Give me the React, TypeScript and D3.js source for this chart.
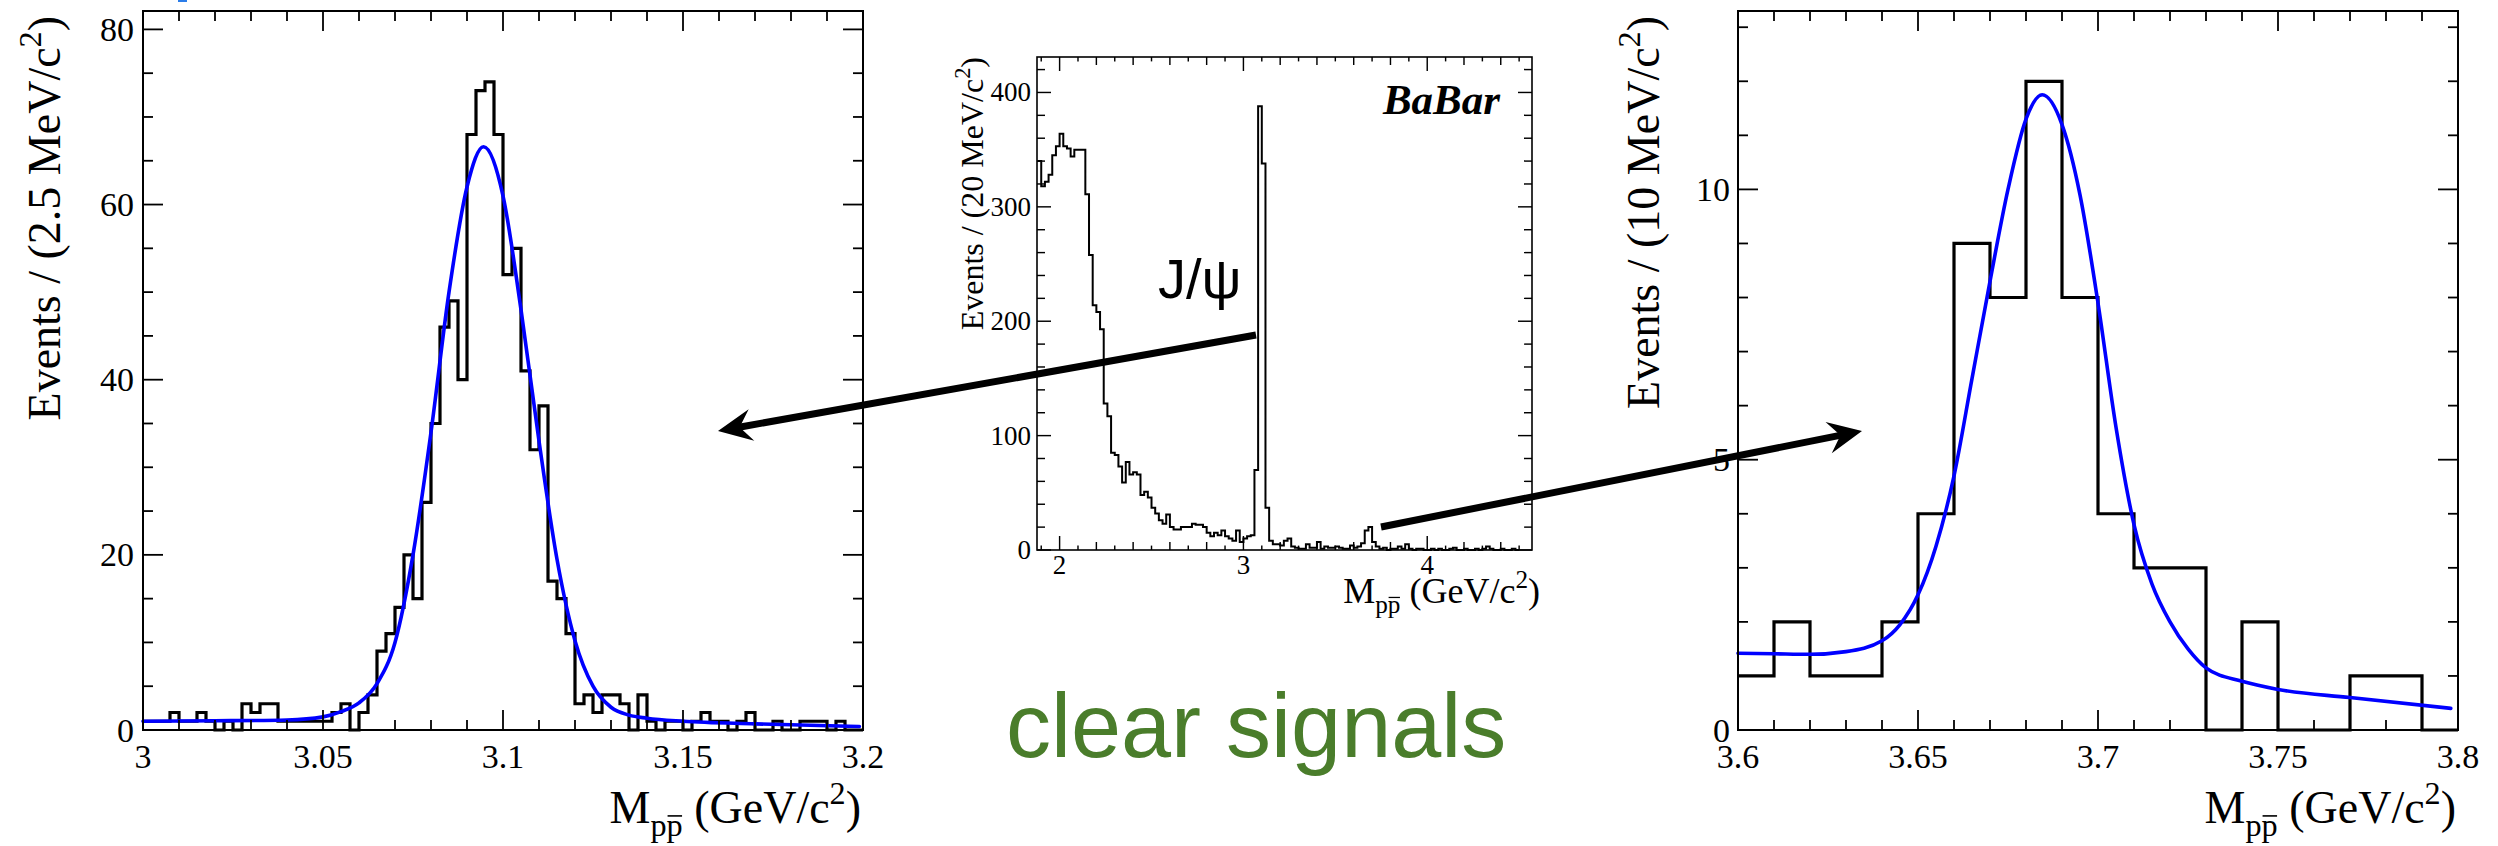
import * as d3 from "d3";
import { useLayoutEffect, useRef, useState } from "react";

// ---- J/psi window (left panel), 2.5 MeV bins from 3.0 ----
const jpsiBinLow = 3.0;
const jpsiBinWidth = 0.0025;
const jpsiCounts = [
  1, 1, 1, 2, 1, 1, 2, 1, 0, 1, 0, 3, 2, 3, 3, 1, 1, 1, 1, 1,
  1, 2, 3, 0, 2, 4,
  9, 11, 14, 20, 15, 26, 35, 46, 49, 40, 68, 73, 74, 68, 52, 55, 41, 32, 37,
  17, 15, 11, 3, 4, 2, 4, 4, 3, 0, 4,
  1, 0, 1, 1, 0, 1, 2, 1, 1, 0, 1, 2, 0, 0, 1, 0, 0, 1, 1, 1, 0, 1, 0, 0,
];
const jpsiFitMass = [3.0, 3.02, 3.04, 3.05, 3.055, 3.06, 3.065, 3.07, 3.075, 3.08, 3.085, 3.09, 3.0946, 3.1, 3.105, 3.11, 3.115, 3.12, 3.125, 3.13, 3.135, 3.14, 3.15, 3.17, 3.199];
const jpsiFitEvents = [1.0, 1.05, 1.15, 1.5, 2.1, 3.1, 5.3, 10, 20, 34, 50, 62, 66.6, 61, 48, 33, 19.5, 10.2, 5.0, 2.6, 1.7, 1.35, 1.0, 0.7, 0.4];
const jpsiXTicks = [3, 3.05, 3.1, 3.15, 3.2];
const jpsiXLabels = ["3", "3.05", "3.1", "3.15", "3.2"];
const jpsiYTicks = [0, 20, 40, 60, 80];

// ---- full spectrum (middle panel), 20 MeV bins from 1.88 ----
const overviewBinLow = 1.88;
const overviewBinWidth = 0.02;
const overviewCounts = [
  340, 318, 322, 328, 345, 353, 364, 353, 351, 344, 350, 350, 350,
  311, 258, 214, 208, 193, 128, 117, 85, 83, 73, 59, 77, 66, 68, 66,
  48, 51, 46, 37, 32, 26, 23, 31, 20, 18, 18, 20, 20, 20, 23, 22,
  22, 20, 15, 12, 15, 13, 17, 12, 10, 8, 17, 7, 10, 12, 13,
  70, 388, 338, 37,
  8, 5, 5, 4, 8, 10, 3, 2, 1, 1, 5, 2, 2, 7, 1, 3, 2, 2, 3, 2, 1, 1, 4, 2, 3,
  6, 17, 20, 7, 3,
  1, 2, 0, 1, 1, 3, 1, 5, 1, 0,
  1, 1, 0, 0, 1, 0, 1, 0, 0, 1, 2, 0, 0, 1, 0, 0, 1, 0, 1, 3, 1, 0, 0, 1, 0, 0, 1, 0,
];
const overviewXTicks = [2, 3, 4];
const overviewYTicks = [0, 100, 200, 300, 400];

// ---- psi(2S) window (right panel), 10 MeV bins from 3.6 ----
const psiBinLow = 3.6;
const psiBinWidth = 0.01;
const psiCounts = [1, 2, 1, 1, 2, 4, 9, 8, 12, 8, 4, 3, 3, 0, 2, 0, 0, 1, 1, 0];
const psiFitMass = [3.6, 3.61, 3.62, 3.63, 3.64, 3.645, 3.65, 3.655, 3.66, 3.665, 3.67, 3.675, 3.68, 3.6845, 3.69, 3.695, 3.7, 3.705, 3.71, 3.715, 3.72, 3.725, 3.73, 3.74, 3.75, 3.77, 3.798];
const psiFitEvents = [1.42, 1.41, 1.4, 1.45, 1.65, 1.95, 2.5, 3.4, 4.7, 6.5, 8.3, 10.0, 11.3, 11.75, 11.2, 9.9, 7.9, 5.6, 3.8, 2.7, 2.0, 1.5, 1.15, 0.9, 0.75, 0.6, 0.4];
const psiXTicks = [3.6, 3.65, 3.7, 3.75, 3.8];
const psiXLabels = ["3.6", "3.65", "3.7", "3.75", "3.8"];
const psiYTicks = [0, 5, 10];

const serif = "'Liberation Serif', 'Times New Roman', serif";
const sans = "'Liberation Sans', Arial, Helvetica, sans-serif";

const panels = [
  {
    key: "jpsi",
    left: 143, right: 863, top: 11, bottom: 730,
    xDomain: [3.0, 3.2], yDomain: [0, 82.1],
    binLow: jpsiBinLow, binWidth: jpsiBinWidth, counts: jpsiCounts,
    fitMass: jpsiFitMass, fitEvents: jpsiFitEvents,
    xTicks: jpsiXTicks, xLabels: jpsiXLabels, yTicks: jpsiYTicks,
    xMinor: 0.01, yMinor: 5, xTiny: 0,
    majorLen: 20, minorLen: 10, frameW: 2, histW: 3.2, fitW: 3.6,
    tickFont: 34, titleFont: 46, xTitleFont: 46,
    yLabelX: 134, xLabelY: 768,
    xTitleEnd: 861, xTitleY: 823, yTitleX: 60, yTitleTop: 16,
    yTitle: "Events / (2.5 MeV/c",
  },
  {
    key: "overview",
    left: 1037, right: 1532, top: 57, bottom: 550,
    xDomain: [1.877, 4.57], yDomain: [0, 431],
    binLow: overviewBinLow, binWidth: overviewBinWidth, counts: overviewCounts,
    fitMass: null, fitEvents: null,
    xTicks: overviewXTicks, xLabels: overviewXTicks.map(String), yTicks: overviewYTicks,
    xMinor: 0.2, yMinor: 20, xTiny: 0.1,
    majorLen: 14, minorLen: 8, frameW: 1.6, histW: 2, fitW: 0,
    tickFont: 27, titleFont: 32, xTitleFont: 36,
    yLabelX: 1031, xLabelY: 574,
    xTitleEnd: 1540, xTitleY: 603, yTitleX: 983, yTitleTop: 57,
    yTitle: "Events / (20 MeV/c",
  },
  {
    key: "psi",
    left: 1738, right: 2458, top: 11, bottom: 730,
    xDomain: [3.6, 3.8], yDomain: [0, 13.3],
    binLow: psiBinLow, binWidth: psiBinWidth, counts: psiCounts,
    fitMass: psiFitMass, fitEvents: psiFitEvents,
    xTicks: psiXTicks, xLabels: psiXLabels, yTicks: psiYTicks,
    xMinor: 0.01, yMinor: 1, xTiny: 0,
    majorLen: 20, minorLen: 10, frameW: 2, histW: 3.2, fitW: 3.6,
    tickFont: 34, titleFont: 46, xTitleFont: 46,
    yLabelX: 1730, xLabelY: 768,
    xTitleEnd: 2456, xTitleY: 823, yTitleX: 1659, yTitleTop: 16,
    yTitle: "Events / (10 MeV/c",
  },
];

const stepValues = (lo: number, hi: number, step: number) => {
  const a = Math.ceil(lo / step - 1e-6);
  const b = Math.floor(hi / step + 1e-6);
  return d3.range(a, b + 1).map((k) => +(k * step).toFixed(6));
};

// "M_{p pbar} (GeV/c^2)"; the bar over the second p is drawn from its measured glyph box
function MassTitle({ x, y, size }: { x: number; y: number; size: number }) {
  const ref = useRef<SVGTextElement>(null);
  const [bar, setBar] = useState<null | { x1: number; x2: number }>(null);
  const s = size * 0.7;
  const sub = size * 0.28;

  useLayoutEffect(() => {
    const el = ref.current;
    if (!el) return;
    try {
      const ext = el.getExtentOfChar(2);
      setBar({ x1: ext.x + ext.width * 0.06, x2: ext.x + ext.width * 0.96 });
    } catch (e) {
      setBar(null);
    }
  }, [x, y, size]);

  const barY = y + sub - s * 0.62;
  return (
    <g>
      <text ref={ref} x={x} y={y} fontSize={size} textAnchor="end" fontFamily={serif}>
        M
        <tspan dy={sub} fontSize={s}>p</tspan>
        <tspan fontSize={s}>p</tspan>
        <tspan dy={-sub}> (GeV/c</tspan>
        <tspan dy={-size * 0.42} fontSize={s}>2</tspan>
        <tspan dy={size * 0.42}>)</tspan>
      </text>
      {bar && <line x1={bar.x1} x2={bar.x2} y1={barY} y2={barY} stroke="#000" strokeWidth={Math.max(1.2, size * 0.035)} />}
    </g>
  );
}

function Panel({ cfg }: { cfg: any }) {
  const x = d3.scaleLinear().domain(cfg.xDomain).range([cfg.left, cfg.right]);
  const y = d3.scaleLinear().domain(cfg.yDomain).range([cfg.bottom, cfg.top]);

  const pts: [number, number][] = cfg.counts.map((c: number, i: number) => [cfg.binLow + i * cfg.binWidth, c]);
  pts.push([cfg.binLow + cfg.counts.length * cfg.binWidth, cfg.counts[cfg.counts.length - 1]]);
  const hist = d3.line<[number, number]>()
    .x((d) => x(d[0]))
    .y((d) => y(d[1]))
    .curve(d3.curveStepAfter)(pts);

  let fit: string | null = null;
  if (cfg.fitMass) {
    const fp: [number, number][] = cfg.fitMass.map((m: number, i: number) => [m, cfg.fitEvents[i]]);
    fit = d3.line<[number, number]>()
      .x((d) => x(d[0]))
      .y((d) => y(d[1]))
      .curve(d3.curveMonotoneX)(fp);
  }

  const [x0, x1] = cfg.xDomain;
  const [y0, y1] = cfg.yDomain;
  const xMajorSet = new Set(cfg.xTicks.map((v: number) => v.toFixed(4)));
  const yMajorSet = new Set(cfg.yTicks.map((v: number) => v.toFixed(4)));
  const xMinor = stepValues(x0, x1, cfg.xMinor).filter((v) => !xMajorSet.has(v.toFixed(4)));
  const xTiny = cfg.xTiny
    ? stepValues(x0, x1, cfg.xTiny).filter((v) => !xMajorSet.has(v.toFixed(4)) && !xMinor.some((m) => Math.abs(m - v) < 1e-6))
    : [];
  const yMinor = stepValues(y0, y1, cfg.yMinor).filter((v) => !yMajorSet.has(v.toFixed(4)));

  const xTickLines: { v: number; len: number }[] = [
    ...cfg.xTicks.map((v: number) => ({ v, len: cfg.majorLen })),
    ...xMinor.map((v) => ({ v, len: cfg.minorLen })),
    ...xTiny.map((v) => ({ v, len: cfg.minorLen * 0.55 })),
  ];
  const yTickLines: { v: number; len: number }[] = [
    ...cfg.yTicks.map((v: number) => ({ v, len: cfg.majorLen })),
    ...yMinor.map((v) => ({ v, len: cfg.minorLen })),
  ];

  const s = cfg.titleFont * 0.7;

  return (
    <g>
      <path d={hist || ""} fill="none" stroke="#000" strokeWidth={cfg.histW} strokeLinejoin="miter" />
      {fit && <path d={fit} fill="none" stroke="#0000ff" strokeWidth={cfg.fitW} strokeLinecap="round" />}
      <g stroke="#000" strokeWidth={cfg.frameW * 0.9}>
        {xTickLines.map((t, i) => (
          <g key={"x" + i}>
            <line x1={x(t.v)} x2={x(t.v)} y1={cfg.bottom} y2={cfg.bottom - t.len} />
            <line x1={x(t.v)} x2={x(t.v)} y1={cfg.top} y2={cfg.top + t.len} />
          </g>
        ))}
        {yTickLines.map((t, i) => (
          <g key={"y" + i}>
            <line x1={cfg.left} x2={cfg.left + t.len} y1={y(t.v)} y2={y(t.v)} />
            <line x1={cfg.right} x2={cfg.right - t.len} y1={y(t.v)} y2={y(t.v)} />
          </g>
        ))}
      </g>
      <rect x={cfg.left} y={cfg.top} width={cfg.right - cfg.left} height={cfg.bottom - cfg.top}
        fill="none" stroke="#000" strokeWidth={cfg.frameW} />
      {cfg.yTicks.map((v: number) => (
        <text key={"yl" + v} x={cfg.yLabelX} y={y(v)} textAnchor="end" dominantBaseline="central"
          fontFamily={serif} fontSize={cfg.tickFont}>{v}</text>
      ))}
      {cfg.xTicks.map((v: number, i: number) => (
        <text key={"xl" + v} x={x(v)} y={cfg.xLabelY} textAnchor="middle"
          fontFamily={serif} fontSize={cfg.tickFont}>{cfg.xLabels[i]}</text>
      ))}
      <MassTitle x={cfg.xTitleEnd} y={cfg.xTitleY} size={cfg.xTitleFont} />
      <text transform={`translate(${cfg.yTitleX},${cfg.yTitleTop}) rotate(-90)`} textAnchor="end"
        fontFamily={serif} fontSize={cfg.titleFont}>
        {cfg.yTitle}
        <tspan dy={-cfg.titleFont * 0.42} fontSize={s}>2</tspan>
        <tspan dy={cfg.titleFont * 0.42}>)</tspan>
      </text>
    </g>
  );
}

// annotation arrows (pixel positions on the slide)
const arrows = [
  { from: [1256, 335], to: [718, 431] },
  { from: [1381, 527], to: [1862, 431] },
];

function Arrow({ from, to }: { from: number[]; to: number[] }) {
  const dx = to[0] - from[0];
  const dy = to[1] - from[1];
  const len = Math.hypot(dx, dy);
  const ux = dx / len, uy = dy / len;
  const nx = -uy, ny = ux;
  const L = 34, W = 16, notch = 22;
  const bx = to[0] - ux * L, by = to[1] - uy * L;
  const head = [
    [to[0], to[1]],
    [bx + nx * W, by + ny * W],
    [to[0] - ux * notch, to[1] - uy * notch],
    [bx - nx * W, by - ny * W],
  ];
  return (
    <g>
      <line x1={from[0]} y1={from[1]} x2={to[0] - ux * (notch - 2)} y2={to[1] - uy * (notch - 2)}
        stroke="#000" strokeWidth={7} />
      <polygon points={head.map((p) => p.join(",")).join(" ")} fill="#000" />
    </g>
  );
}

export default function App() {
  return (
    <svg width={2498} height={846} style={{ position: "absolute", left: 0, top: 0, background: "#fff" }}>
      <rect x={0} y={0} width={2498} height={846} fill="#fff" />
      <rect x={178} y={0} width={9} height={2} fill="#2b7de9" />
      {panels.map((p) => (
        <Panel key={p.key} cfg={p} />
      ))}
      <text x={1500} y={114} textAnchor="end" fontFamily={serif} fontWeight="bold" fontStyle="italic" fontSize={43}>
        BaBar
      </text>
      <text x={1158} y={298} fontFamily={sans} fontSize={56}>J/ψ</text>
      {arrows.map((a, i) => (
        <Arrow key={i} from={a.from} to={a.to} />
      ))}
      <text x={1006} y={757} fontFamily={sans} fontSize={90} fill="#4a7d2b">clear signals</text>
    </svg>
  );
}
